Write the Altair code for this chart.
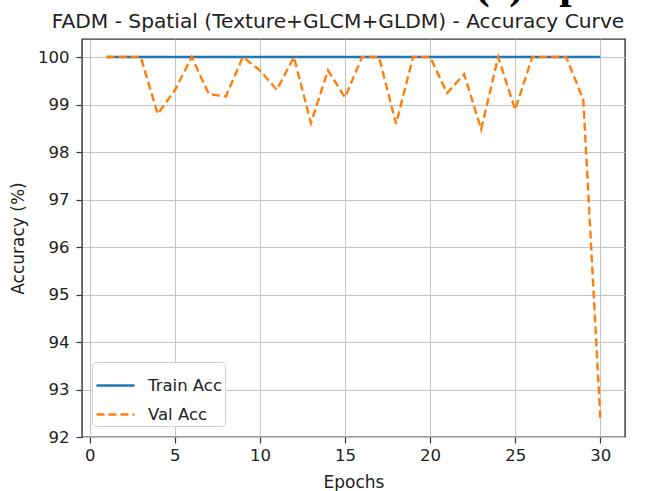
import altair as alt
import pandas as pd

# ---- data ----
epochs = [1, 2, 3, 4, 5, 6, 7, 8, 9, 10, 11, 12, 13, 14, 15,
          16, 17, 18, 19, 20, 21, 22, 23, 24, 25, 26, 27, 28, 29, 30]
train_acc = [100.0, 100.0, 100.0, 100.0, 100.0, 100.0, 100.0, 100.0, 100.0, 100.0,
             100.0, 100.0, 100.0, 100.0, 100.0, 100.0, 100.0, 100.0, 100.0, 100.0,
             100.0, 100.0, 100.0, 100.0, 100.0, 100.0, 100.0, 100.0, 100.0, 100.0]
val_acc = [100.0, 100.0, 100.0, 98.80, 99.30, 100.0, 99.22, 99.17, 100.0, 99.72,
           99.31, 100.0, 98.61, 99.72, 99.15, 100.0, 100.0, 98.59, 100.0, 100.0,
           99.24, 99.64, 98.48, 100.0, 98.89, 100.0, 100.0, 100.0, 99.10, 92.40]
series_names = ["Train Acc", "Val Acc"]
series_colors = ["#1f77b4", "#ff7f0e"]
x_ticks = [0, 5, 10, 15, 20, 25, 30]
y_ticks = [92, 93, 94, 95, 96, 97, 98, 99, 100]
title_text = ["FADM - Spatial (Texture+GLCM+GLDM) - Accuracy Curve"]
corner_text = ["(c)  Sp"]

df = pd.DataFrame({
    "Epoch": epochs * 2,
    "Accuracy": train_acc + val_acc,
    "Series": [series_names[0]] * len(epochs) + [series_names[1]] * len(epochs),
})

FONT = "DejaVu Sans"

legend_kw = dict(title=None, orient="none", legendX=10, legendY=323,
                 symbolType="stroke", symbolSize=1444, symbolStrokeWidth=2.4,
                 labelFontSize=16.5, labelFont=FONT, labelColor="#222",
                 fillColor="white", strokeColor="#d0d0d0", cornerRadius=4,
                 padding=3, rowPadding=0, labelOffset=12)

lines = alt.Chart(df).mark_line(strokeWidth=2.4, clip=False).encode(
    x=alt.X("Epoch:Q",
            scale=alt.Scale(domain=[-0.45, 31.45], nice=False, zero=False),
            axis=alt.Axis(values=x_ticks, title="Epochs", labelFontSize=16.5,
                          titleFontSize=17, labelPadding=4, titlePadding=11,
                          format="d")),
    y=alt.Y("Accuracy:Q",
            scale=alt.Scale(domain=[92.0, 100.38], nice=False, zero=False),
            axis=alt.Axis(values=y_ticks, title="Accuracy (%)", labelFontSize=16.5,
                          titleFontSize=17, labelPadding=7, titlePadding=10,
                          format="d")),
    color=alt.Color("Series:N",
                    scale=alt.Scale(domain=series_names, range=series_colors),
                    legend=alt.Legend(**legend_kw)),
    strokeDash=alt.StrokeDash("Series:N",
                              scale=alt.Scale(domain=series_names,
                                              range=[[1, 0], [8, 4]]),
                              legend=alt.Legend(**legend_kw)),
)

title = alt.Chart(pd.DataFrame({"t": title_text})).mark_text(
    font=FONT, fontSize=20.2, align="center", baseline="alphabetic",
    color="#222", clip=False
).encode(text="t:N", x=alt.value(256), y=alt.value(-11))

corner = alt.Chart(pd.DataFrame({"t": corner_text})).mark_text(
    font="Liberation Serif", fontWeight="bold", fontSize=44,
    align="left", baseline="alphabetic", color="black", clip=False
).encode(text="t:N", x=alt.value(393), y=alt.value(-41))

chart = alt.layer(lines, title, corner).properties(
    width=543, height=398,
    autosize=alt.AutoSizeParams(type="none"),
    padding={"left": 82, "top": 39, "right": 33, "bottom": 54},
).configure(font=FONT, background="white").configure_view(
    stroke="#333", strokeWidth=1.4
).configure_axis(
    grid=True, gridColor="#c4c4c4", gridWidth=1, domain=False,
    tickColor="#333", tickSize=6, tickWidth=1.2,
    labelColor="#222", titleColor="#222", labelFont=FONT, titleFont=FONT,
    titleFontWeight="normal"
)

chart.save("out.html", embed_options={"renderer": "svg", "actions": False})
